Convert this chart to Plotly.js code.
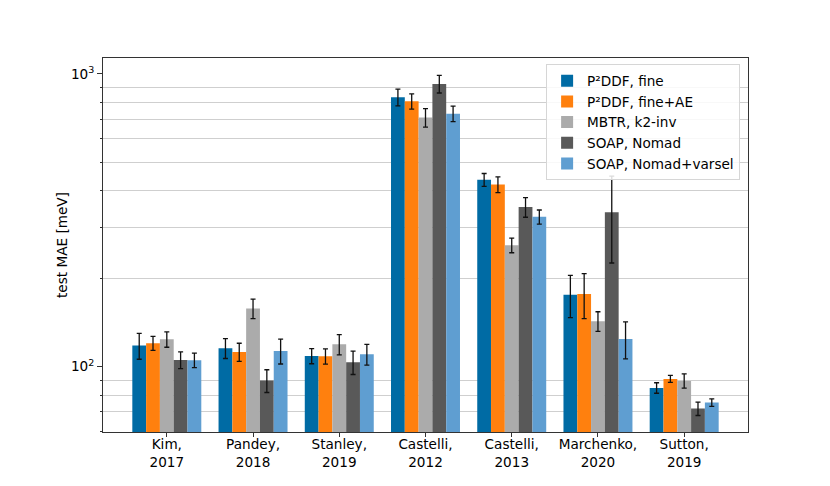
<!DOCTYPE html>
<html>
<head>
<meta charset="utf-8">
<script src="https://cdn.plot.ly/plotly-3.0.1.min.js"></script>
<style>html,body{margin:0;padding:0;background:#fff;}#chart{width:830px;height:486px;}</style>
</head>
<body>
<div id="chart"></div>
<script>
// Categories (datasets)
const categories = ["Kim,<br>2017", "Pandey,<br>2018", "Stanley,<br>2019", "Castelli,<br>2012", "Castelli,<br>2013", "Marchenko,<br>2020", "Sutton,<br>2019"];

// Series names
const seriesNames = ["P²DDF, fine", "P²DDF, fine+AE", "MBTR, k2-inv", "SOAP, Nomad", "SOAP, Nomad+varsel"];

// Values (test MAE in meV) per series
const p2ddfFine      = [118, 115.6, 108.8, 833, 435, 176, 84.6];
const p2ddfFineAE    = [120.2, 112.2, 108.5, 807, 419, 177, 90.8];
const mbtrK2inv      = [124, 158, 119.2, 710, 260, 143, 89.4];
const soapNomad      = [105.4, 89.6, 103.5, 925, 351, 337, 71.9];
const soapNomadVars  = [105.2, 113.1, 110.2, 732, 325, 124.3, 75.4];

// Error bar half-widths (meV)
const p2ddfFineErr     = [12, 9, 6.5, 55, 22, 29, 3.5];
const p2ddfFineAEErr   = [6.6, 8, 6.5, 48, 26, 31, 2.5];
const mbtrK2invErr     = [7.5, 12, 9.5, 52, 15, 11, 5];
const soapNomadErr     = [7, 8, 9.5, 64, 27, 111, 3.8];
const soapNomadVarsErr = [6, 11, 9, 45, 18, 18, 2.2];

// Y axis ticks
const majorTickVals = [100, 1000];
const majorTickText = ["10<sup>2</sup>", "10<sup>3</sup>"];
const minorTickVals = [60, 70, 80, 90, 200, 300, 400, 500, 600, 700, 800, 900];

const colors = ["#006BA4", "#FF800E", "#ABABAB", "#595959", "#5F9ED1"];
const values = [p2ddfFine, p2ddfFineAE, mbtrK2inv, soapNomad, soapNomadVars];
const errors = [p2ddfFineErr, p2ddfFineAEErr, mbtrK2invErr, soapNomadErr, soapNomadVarsErr];

const traces = seriesNames.map((name, i) => ({
  type: "bar",
  name: name,
  x: categories,
  y: values[i],
  marker: {color: colors[i], line: {width: 0}},
  error_y: {type: "data", array: errors[i], visible: true, color: "#111111", thickness: 1.3, width: 2.5}
}));

const FS = 13.6;
const fam = "DejaVu Sans, sans-serif";
const font = {family: fam, size: FS, color: "#000"};

const layout = {
  width: 830, height: 486,
  margin: {l: 103, r: 82, t: 58, b: 54, pad: 0},
  paper_bgcolor: "#fff", plot_bgcolor: "#fff",
  font: font,
  barmode: "group",
  bargap: 0.2,
  bargroupgap: 0,
  showlegend: true,
  legend: {
    x: 0.687, y: 0.983, xanchor: "left", yanchor: "top",
    bgcolor: "rgba(255,255,255,0.85)", bordercolor: "#d6d6d6", borderwidth: 1,
    font: {family: fam, size: FS, color: "#000"},
    tracegroupgap: 0
  },
  xaxis: {
    type: "category",
    range: [-0.74, 6.74],
    showline: true, mirror: true, linecolor: "#333", linewidth: 1,
    ticks: "outside", ticklen: 4, tickcolor: "#333",
    ticklabelstandoff: -4,
    showgrid: false, zeroline: false,
    tickfont: {family: fam, size: FS, color: "#000"}
  },
  yaxis: {
    type: "log",
    range: [Math.log10(59.8), Math.log10(1134)],
    showline: true, mirror: true, linecolor: "#333", linewidth: 1,
    tickmode: "array", tickvals: majorTickVals, ticktext: majorTickText,
    ticks: "outside", ticklen: 5, tickcolor: "#333",
    showgrid: false, zeroline: false,
    tickfont: {family: fam, size: FS, color: "#000"},
    minor: {tickmode: "array", tickvals: minorTickVals, ticks: "outside", ticklen: 2.5, tickcolor: "#333", showgrid: true, gridcolor: "#cfcfcf", gridwidth: 1},
    title: {text: "test MAE [meV]", font: {family: fam, size: FS, color: "#000"}, standoff: 0}
  }
};

Plotly.newPlot("chart", traces, layout, {displayModeBar: false, staticPlot: true});
</script>
</body>
</html>
